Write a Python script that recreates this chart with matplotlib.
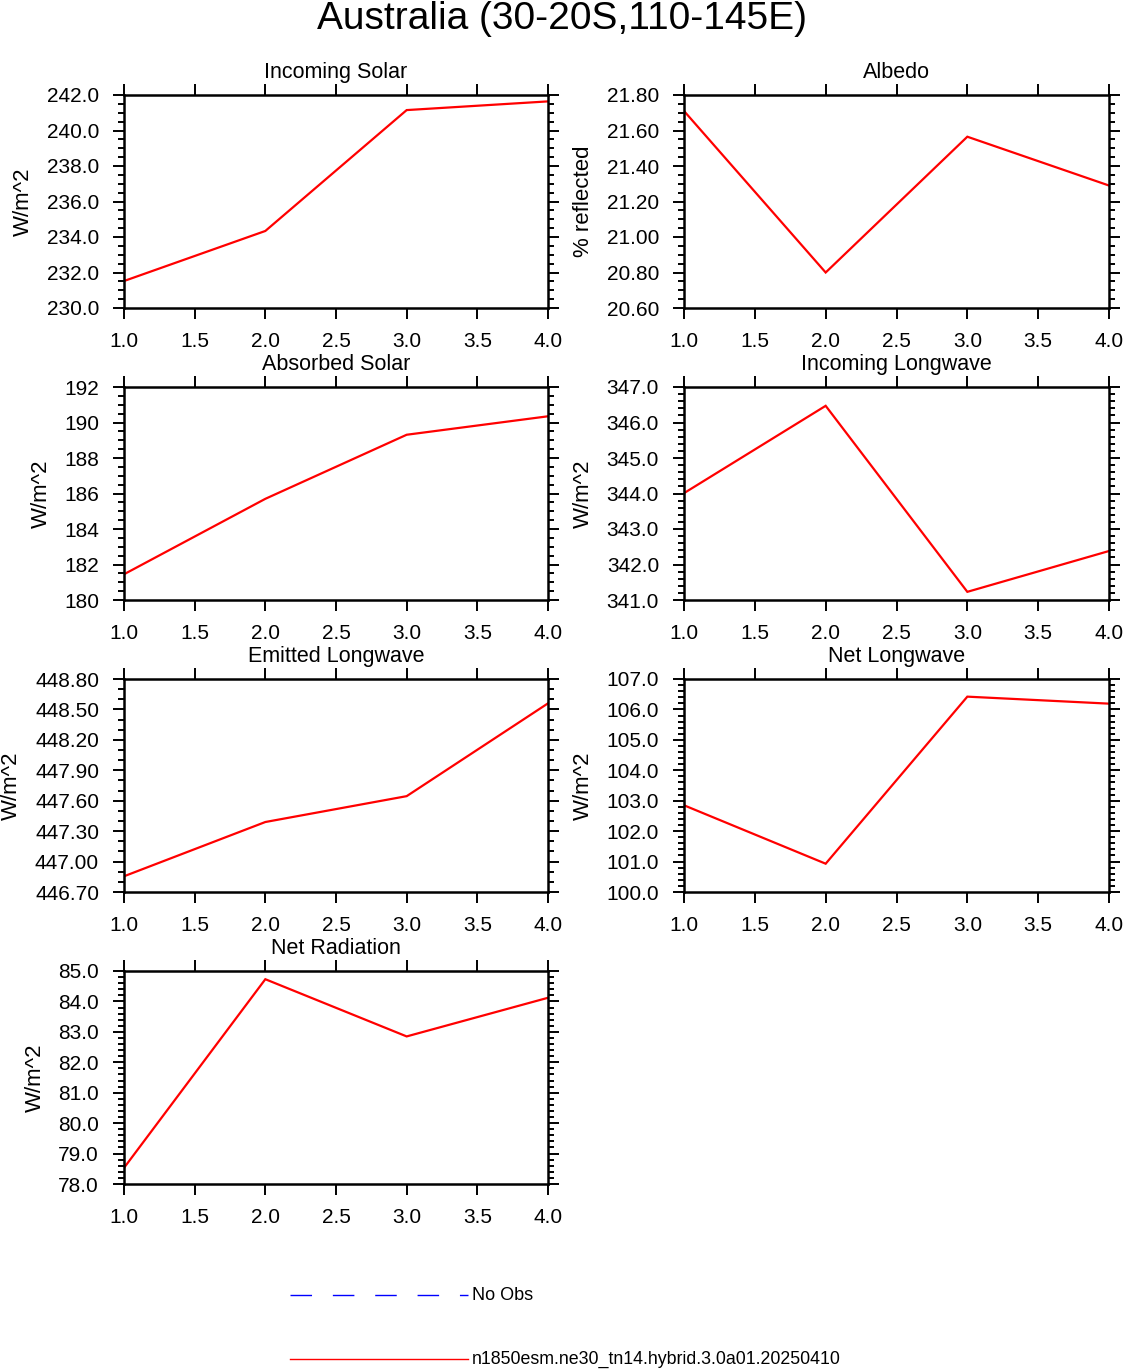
import numpy as np
import matplotlib
matplotlib.use('Agg')
from matplotlib import pyplot as plt
from matplotlib.lines import Line2D
from matplotlib.ticker import MultipleLocator, FormatStrFormatter, NullLocator

plt.rcParams['font.family'] = ['Liberation Sans', 'DejaVu Sans']

## data
x = [1.0, 2.0, 3.0, 4.0]
incoming_solar = [231.52, 234.34, 241.15, 241.64]
albedo = [21.71, 20.80, 21.565, 21.29]
absorbed_solar = [181.45, 185.70, 189.31, 190.35]
incoming_lw = [344.01, 346.47, 341.23, 342.38]
emitted_lw = [446.855, 447.39, 447.645, 448.56]
net_lw = [102.85, 100.93, 106.42, 106.19]
net_rad = [78.53, 84.73, 82.85, 84.12]

main_title = 'Australia (30-20S,110-145E)'
case_name = 'n1850esm.ne30_tn14.hybrid.3.0a01.20250410'
obs_name = 'No Obs'

# (title, ylabel, values, ymin, ymax, major, minor, format)
panels = [
    ('Incoming Solar', 'W/m^2', incoming_solar, 230.0, 242.0, 2.0, 0.5, '%.1f'),
    ('Albedo', '% reflected', albedo, 20.6, 21.8, 0.2, 0.05, '%.2f'),
    ('Absorbed Solar', 'W/m^2', absorbed_solar, 180.0, 192.0, 2.0, 0.5, '%d'),
    ('Incoming Longwave', 'W/m^2', incoming_lw, 341.0, 347.0, 1.0, 0.2, '%.1f'),
    ('Emitted Longwave', 'W/m^2', emitted_lw, 446.7, 448.8, 0.3, 0.1, '%.2f'),
    ('Net Longwave', 'W/m^2', net_lw, 100.0, 107.0, 1.0, 0.2, '%.1f'),
    ('Net Radiation', 'W/m^2', net_rad, 78.0, 85.0, 1.0, 0.2, '%.1f'),
]

W, H = 1124, 1369
fig = plt.figure(figsize=(W/100, H/100), dpi=100)

def rect(l, t, r, b):
    return [l/W, 1-b/H, (r-l)/W, (b-t)/H]

cols = [(124, 548), (684, 1109)]
tops = [95, 387, 679, 971]
ph = 213

for i, (title, ylab, vals, ymin, ymax, major, minor, fmt) in enumerate(panels):
    l, r = cols[i % 2]
    t = tops[i // 2]
    ax = fig.add_axes(rect(l, t, r, t+ph))
    ax.plot(x, vals, color='red', lw=1.6, solid_joinstyle='miter')
    ax.set_xlim(1.0, 4.0)
    ax.set_ylim(ymin, ymax)
    ax.xaxis.set_major_locator(MultipleLocator(0.5))
    ax.xaxis.set_minor_locator(NullLocator())
    ax.xaxis.set_major_formatter(FormatStrFormatter('%.1f'))
    ax.yaxis.set_major_locator(MultipleLocator(major))
    ax.yaxis.set_minor_locator(MultipleLocator(minor))
    ax.yaxis.set_major_formatter(FormatStrFormatter(fmt))
    ax.tick_params(which='both', direction='out', top=True, right=True,
                   width=1.4, labelsize=15)
    ax.tick_params(which='major', length=8)
    ax.tick_params(which='minor', length=4.3)
    ax.tick_params(axis='x', which='major', pad=9)
    ax.tick_params(axis='y', which='major', pad=10)
    for s in ax.spines.values():
        s.set_linewidth(1.8)
    ax.set_title(title, fontsize=15.5, y=1.0, pad=12)
    ax.set_ylabel(ylab, fontsize=16, labelpad=9)

fig.text(0.5, 1-19/H, main_title, ha='center', va='center', fontsize=28)

# legend drawn at the bottom like the NCL panel legend
fig.add_artist(Line2D([290/W, 468/W], [1-1295/H]*2, transform=fig.transFigure,
                      color='blue', lw=1.0, dashes=(15.5, 15)))
fig.text(472/W, 1-1295/H, obs_name, ha='left', va='center', fontsize=13)
fig.add_artist(Line2D([290/W, 468/W], [1-1359/H]*2, transform=fig.transFigure,
                      color='red', lw=1.0))
fig.text(472/W, 1-1359/H, case_name, ha='left', va='center', fontsize=12.8)

fig.savefig('out.png', dpi=100)
